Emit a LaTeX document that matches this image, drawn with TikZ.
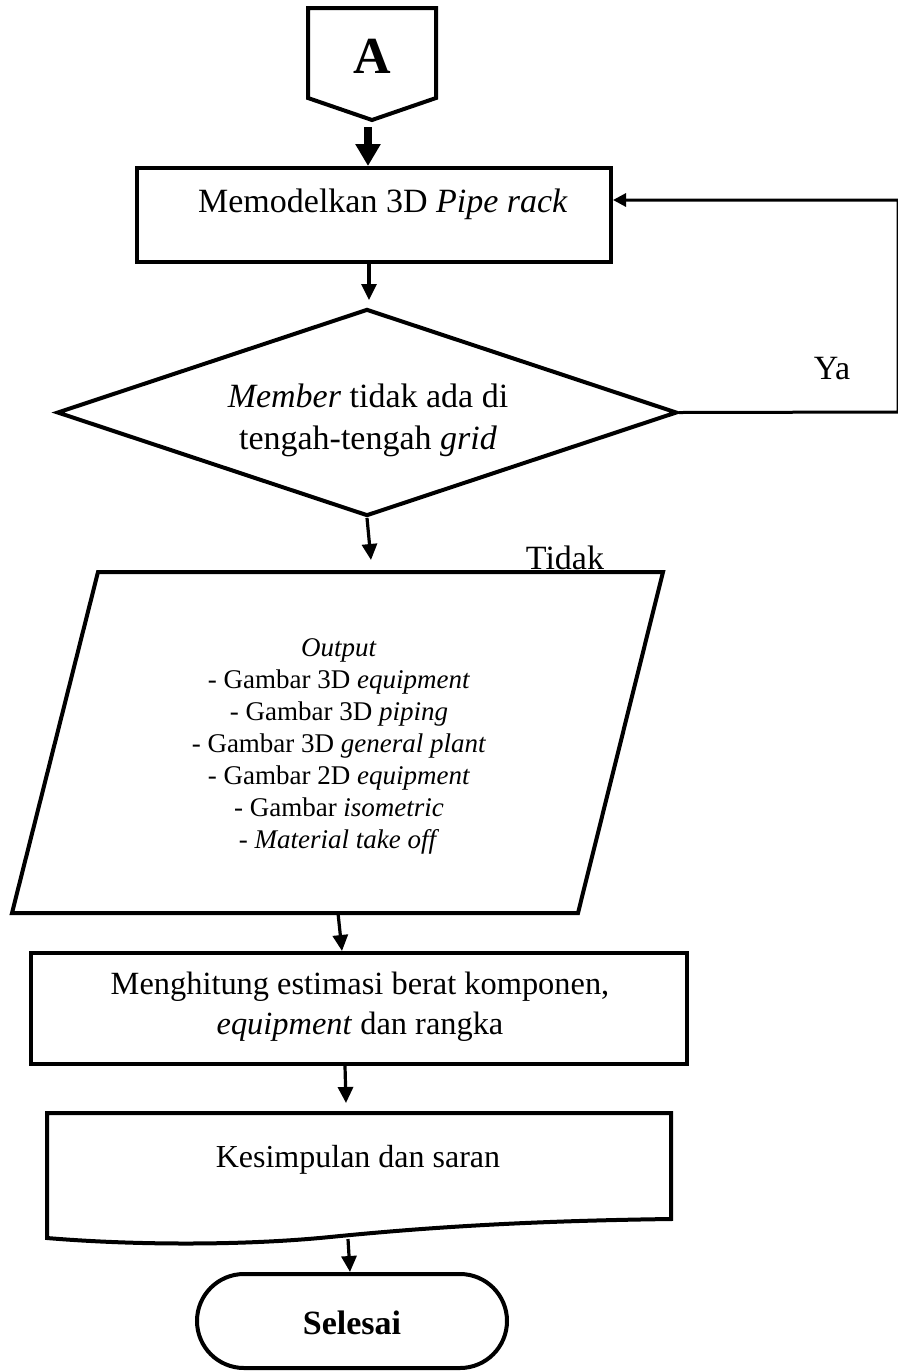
\documentclass[tikz,border=0pt]{standalone}
\usepackage{fontspec}
\setmainfont{Liberation Serif}
\usepackage{tikz}
\usetikzlibrary{arrows.meta,shapes.geometric,shapes.misc}

\begin{document}
\begin{tikzpicture}[x=0.5pt, y=-0.5pt, line join=miter,
  garis/.style={line width=2pt},
  proses/.style={draw, garis, rectangle, inner sep=0pt},
  putusan/.style={draw, garis, diamond, inner sep=0pt},
  ujung/.style={draw, garis, rounded rectangle, inner sep=0pt},
  teks/.style={font=\fontsize{17}{21}\selectfont, align=center, inner sep=0pt},
  panah/.style={-{Triangle[length=8pt,width=7.5pt]}, line width=1.6pt},
  panahtebal/.style={-{Triangle[length=11pt,width=12pt]}, line width=4pt}]
\useasboundingbox (0,0) rectangle (898,1372);
% ---------- konektor A ----------
\draw[garis] (308,8) -- (436,8) -- (436,98) -- (372,120) -- (308,98) -- cycle;
\node[font=\fontsize{26}{30}\selectfont\bfseries, inner sep=0pt] (konA) at (372,56) {A};
\coordinate (konA-bawah) at (368,127);
% ---------- memodelkan ----------
\node[proses, minimum width=237pt, minimum height=47pt] (model) at (374,215) {};
\node[teks] (model-t) at (383,204) {Memodelkan 3D \textit{Pipe rack}};
% ---------- cek member ----------
\node[putusan, minimum width=310pt, minimum height=103.5pt] (cek) at (367,412.5) {};
\node[teks] (cek-t) at (368,420) {\textit{Member} tidak ada di\\tengah-tengah \textit{grid}};
\coordinate (balik) at (898,412);
\node[teks] (ya) at (832,369) {Ya};
\node[teks] (tidak) at (565,558) {Tidak};
% ---------- output ----------
\draw[garis] (98,572) -- (663,572) -- (578,913) -- (12,913) -- cycle;
\coordinate (out-atas) at (371,572);
\coordinate (out-bawah) at (338,913);
\node[font=\fontsize{13.5}{16}\selectfont, align=center, inner sep=0pt] (out) at (339,746)
  {\textit{Output}\\- Gambar 3D \textit{equipment}\\- Gambar 3D \textit{piping}\\
   - Gambar 3D \textit{general plant}\\- Gambar 2D \textit{equipment}\\
   - Gambar \textit{isometric}\\- \textit{Material take off}};
% ---------- menghitung ----------
\node[proses, minimum width=328pt, minimum height=55.5pt] (hitung) at (359,1008.5) {};
\node[teks, font=\fontsize{16.2}{20}\selectfont] (hitung-t) at (360,1007) {Menghitung estimasi berat komponen,\\\textit{equipment} dan rangka};
% ---------- kesimpulan ----------
\draw[garis] (47,1113) -- (671,1113) -- (671,1219)
  .. controls (520,1221) and (420,1228) .. (330,1237)
  .. controls (240,1246) and (130,1245) .. (47,1238) -- cycle;
\coordinate (simpul-atas) at (346,1113);
\coordinate (simpul-bawah) at (348,1239);
\node[teks, font=\fontsize{16}{20}\selectfont] (simpul-t) at (358,1160) {Kesimpulan dan saran};
% ---------- selesai ----------
\node[ujung, minimum width=155pt, minimum height=47pt] (selesai) at (352,1321) {};
\node[teks, font=\fontsize{17}{21}\selectfont\bfseries] (selesai-t) at (352,1323) {Selesai};
% ---------- panah ----------
\draw[panahtebal] (konA-bawah) -- (konA-bawah |- model.north);
\draw[panah] ([xshift=-2.5pt]model.south) -- ([xshift=-2.5pt]model.south |- 0,300);
\draw[panah] (cek.south) -- ([yshift=6pt]out-atas);
\draw[panah] (out-bawah) -- ([xshift=-8.5pt]hitung.north);
\draw[panah] ([xshift=-7pt]hitung.south) -- ([yshift=5pt]simpul-atas);
\draw[panah] (simpul-bawah) -- (selesai.north -| 350,0);
\draw[line width=1.5pt, -{Triangle[length=6.5pt,width=6.5pt]}]
  (cek.east) -- (balik) |- ([yshift=7.5pt]model.east);
\end{tikzpicture}
\end{document}
